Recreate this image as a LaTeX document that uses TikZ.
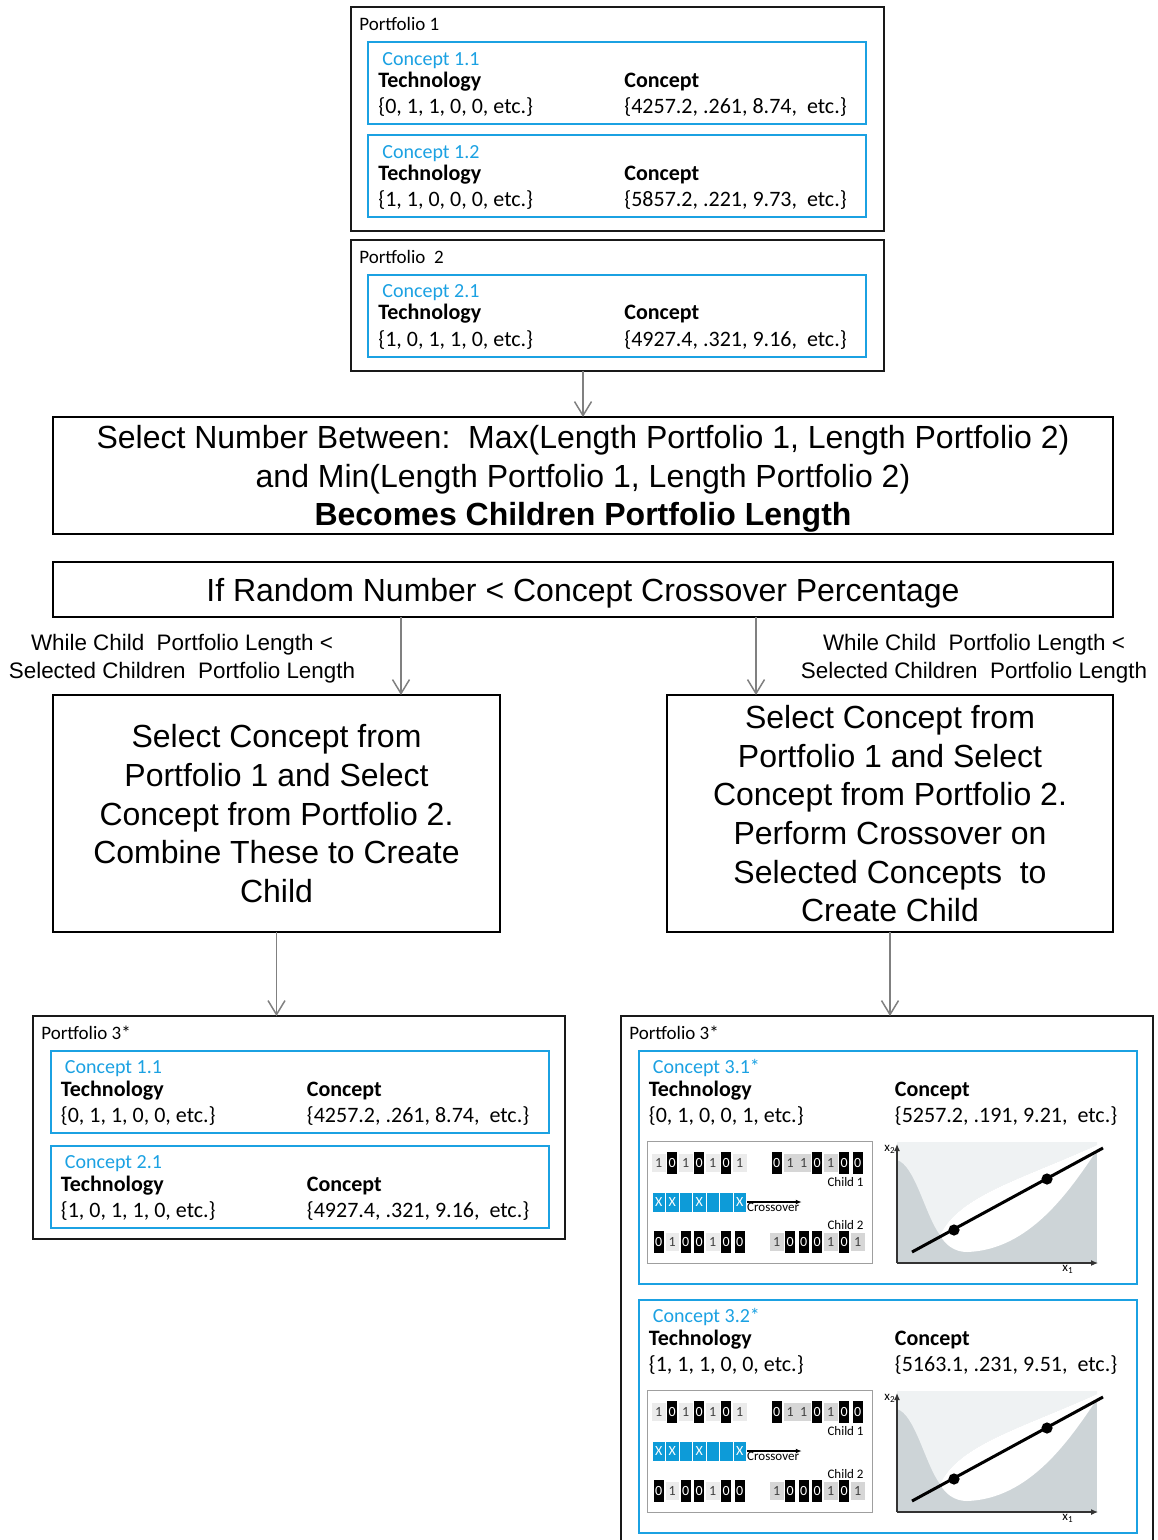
\documentclass[tikz,border=0pt]{standalone}
\usepackage{fontspec}
\setmainfont{Carlito}
\newfontfamily\arialfont{Liberation Sans}
\usetikzlibrary{arrows.meta}

\definecolor{conceptblue}{HTML}{1BA1E2}
\definecolor{xoverblue}{HTML}{0D9BD8}
\definecolor{bitlite}{HTML}{EBEBEB}
\definecolor{bitmid}{HTML}{D6D6D6}
\definecolor{plotgray}{HTML}{CDD4D7}
\definecolor{plotpale}{HTML}{EFF2F3}
\definecolor{arrowgray}{HTML}{808080}

% one concept card: [height]{x}{y}{name}{title}{technology}{concept values}
\newcommand{\conceptcard}[7][41pt]{%
  \node[card, minimum height=#1, anchor=north west] (#4) at (#2,#3) {};
  \path (#4.north west) ++(14,22.6) node[cardtitle] (#4t) {#5};
  \path (#4.north west) ++(10,45) node[cardhead] (#4h) {Technology};
  \path (#4.north west) ++(10,71.5) node[cardtext] (#4v) {#6};
  \path (#4.north west) ++(256,45) node[cardhead] (#4k) {Concept};
  \path (#4.north west) ++(256,71.5) node[cardtext] (#4w) {#7};
}

% row of bits: {prefix}{left x}{y}{bits}{fill of the 1s}
\newcommand{\bitrow}[5]{%
  \foreach \b [count=\i] in {#4} {
    \ifnum\b=0\relax
      \node[bitdark] (#1\i) at ({#2+13.5*\i-6.75},#3) {0};
    \else
      \node[bitlight, fill=#5] (#1\i) at ({#2+13.5*\i-6.75},#3) {1};
    \fi
  }
}

\tikzset{
  xover/.pic={
    % crossover sketch
    \node[draw=gray!75, line width=0.5pt, fill=white, minimum width=112.5pt, minimum height=61pt,
      inner sep=0pt, outer sep=0pt, anchor=north west] (panel) at (647,1141) {};
    \bitrow{pa}{652}{1163}{1,0,1,0,1,0,1}{bitlite}
    \bitrow{pb}{770}{1163}{0,1,1,0,1,0,0}{bitmid}
    \bitrow{ca}{652}{1242}{0,1,0,0,1,0,0}{bitlite}
    \bitrow{cb}{770}{1242}{1,0,0,0,1,0,1}{bitmid}
    \foreach \t [count=\i] in {X,X,{},X,{},{},X}
      \node[xcell] (mask\i) at ({645.25+13.5*\i},1202) {\t};
    \draw[line width=0.6pt, -{Latex[length=3pt,width=2.4pt]}] (mask7.east) -- ++(55,0) coordinate (xend);
    \node[smalltext, anchor=north west] (xlab) at ([yshift=-0.5pt]mask7.east) {Crossover};
    \node[smalltext, anchor=base east] (child1) at (864,1186) {Child 1};
    \node[smalltext, anchor=base east] (child2) at (864,1229) {Child 2};
    % landscape with the search line
    \fill[plotgray] (897,1142) rectangle (1097,1263);
    \fill[plotpale] (897,1142) -- (897,1160) .. controls (915,1165) and (925,1215) .. (940,1235)
      .. controls (960,1195) and (1020,1180) .. (1097,1145) -- (1097,1142) -- cycle;
    \fill[white] (940,1235) .. controls (960,1195) and (1020,1180) .. (1097,1145) -- (1097,1150)
      .. controls (1070,1190) and (1030,1250) .. (967,1252) .. controls (955,1252) and (945,1245) .. (940,1235) -- cycle;
    \draw[axis] (897,1263) -- (897,1144);
    \draw[axis] (897,1263) -- (1098,1263);
    \node[smalltext, anchor=east] (x2) at (896,1149) {x\textsubscript{2}};
    \node[smalltext, anchor=north] (x1) at (1068,1265) {x\textsubscript{1}};
    \draw[line width=1.5pt] (912,1252) -- (1103,1148);
    \fill (954,1230) circle (2.8pt) (1047,1179) circle (2.8pt);
  }
}

\begin{document}
\begin{tikzpicture}[x=0.5pt, y=-0.5pt,
  frame/.style={draw=black!90, line width=1pt, inner sep=0pt, outer sep=0pt, anchor=north west},
  framelabel/.style={anchor=base west, inner sep=0pt, font=\fontsize{9.5}{11}\selectfont},
  card/.style={draw=conceptblue, line width=1pt, inner sep=0pt, outer sep=0pt, minimum width=249pt},
  cardtitle/.style={anchor=base west, inner sep=0pt, text=conceptblue, font=\fontsize{10}{12}\selectfont},
  cardhead/.style={anchor=base west, inner sep=0pt, font=\bfseries\fontsize{11}{13}\selectfont},
  cardtext/.style={anchor=base west, inner sep=0pt, font=\fontsize{11}{13}\selectfont},
  flowbox/.style={draw=black, line width=1pt, inner sep=0pt, outer sep=0pt, align=center,
    text depth=0pt, font=\arialfont\fontsize{16}{19.3}\selectfont},
  looplabel/.style={align=center, inner sep=0pt, font=\arialfont\fontsize{11.2}{14}\selectfont},
  flowarrow/.style={draw=arrowgray, line width=0.75pt, -{Straight Barb[length=7pt,width=8.5pt]}},
  bitdark/.style={fill=black, text=white, minimum width=5.2pt, minimum height=11pt, inner sep=0pt,
    font=\fontsize{7}{8}\selectfont},
  bitlight/.style={text=black!75, minimum width=6.75pt, minimum height=9pt, inner sep=0pt,
    font=\fontsize{7}{8}\selectfont},
  xcell/.style={fill=xoverblue, draw=white, line width=0.3pt, text=white, minimum width=6.75pt,
    minimum height=10pt, inner sep=0pt, font=\fontsize{7}{8}\selectfont},
  smalltext/.style={inner sep=0pt, font=\fontsize{6.5}{7}\selectfont},
  axis/.style={draw=black!80, line width=0.6pt, -{Latex[length=3.5pt,width=3pt]}},
]
\useasboundingbox (0,0) rectangle (1157,1540);

% parent portfolios
\node[frame, minimum width=266.5pt, minimum height=112pt] (p1) at (351,7) {};
\node[framelabel] (p1l) at (359,31) {Portfolio 1};
\conceptcard{368}{42.5}{c11}{Concept 1.1}{\{0, 1, 1, 0, 0, etc.\}}{\{4257.2, .261, 8.74,\ \ etc.\}}
\conceptcard{368}{135.5}{c12}{Concept 1.2}{\{1, 1, 0, 0, 0, etc.\}}{\{5857.2, .221, 9.73,\ \ etc.\}}

\node[frame, minimum width=266.5pt, minimum height=65.5pt] (p2) at (351,240) {};
\node[framelabel] (p2l) at (359,264) {Portfolio\ \ 2};
\conceptcard{368}{275}{c21}{Concept 2.1}{\{1, 0, 1, 1, 0, etc.\}}{\{4927.4, .321, 9.16,\ \ etc.\}}

% flow
\node[flowbox, minimum width=530pt, minimum height=58.5pt] (select) at (583,475.5)
  {Select Number Between:\ \ Max(Length Portfolio 1, Length Portfolio 2)\\
   and Min(Length Portfolio 1, Length Portfolio 2)\\
   \textbf{Becomes Children Portfolio Length}};
\node[flowbox, minimum width=530pt, minimum height=27.5pt] (random) at (583,589.5)
  {If Random Number < Concept Crossover Percentage};

\node[flowbox, minimum width=223.5pt, minimum height=118.5pt] (leftbox) at (276.5,813.5)
  {Select Concept from\\Portfolio 1 and Select\\Concept from Portfolio 2.\\Combine These to Create\\Child};
\node[flowbox, minimum width=223pt, minimum height=118.5pt] (rightbox) at (890,813.5)
  {Select Concept from\\Portfolio 1 and Select\\Concept from Portfolio 2.\\Perform Crossover on\\Selected Concepts\ \ to\\Create Child};

\node[looplabel] (lwhile) at (182,659) {While Child\ \ Portfolio Length <\\Selected Children\ \ Portfolio Length};
\node[looplabel] (rwhile) at (974,659) {While Child\ \ Portfolio Length <\\Selected Children\ \ Portfolio Length};

\coordinate (ltap) at (401,617);
\coordinate (rtap) at (756,617);
\draw[flowarrow] (select.north |- p2.south) -- (select.north);
\draw[flowarrow] (ltap) -- (ltap |- leftbox.north);
\draw[flowarrow] (rtap) -- (rtap |- rightbox.north);

% child portfolios
\node[frame, minimum width=266pt, minimum height=111.5pt] (p3l) at (33,1016) {};
\node[framelabel] (p3ll) at (41,1039) {Portfolio 3*};
\conceptcard{50.5}{1051}{d11}{Concept 1.1}{\{0, 1, 1, 0, 0, etc.\}}{\{4257.2, .261, 8.74,\ \ etc.\}}
\conceptcard{50.5}{1146}{d21}{Concept 2.1}{\{1, 0, 1, 1, 0, etc.\}}{\{4927.4, .321, 9.16,\ \ etc.\}}

\node[frame, minimum width=266pt, minimum height=262.5pt] (p3r) at (621,1016) {};
\node[framelabel] (p3rl) at (629,1039) {Portfolio 3*};
\conceptcard[116.5pt]{638.5}{1051}{d31}{Concept 3.1*}{\{0, 1, 0, 0, 1, etc.\}}{\{5257.2, .191, 9.21,\ \ etc.\}}
\conceptcard[116.5pt]{638.5}{1300}{d32}{Concept 3.2*}{\{1, 1, 1, 0, 0, etc.\}}{\{5163.1, .231, 9.51,\ \ etc.\}}
\pic (xa) at (0,0) {xover};
\pic (xb) at (0,249) {xover};

\draw[flowarrow] (leftbox.south) -- (leftbox.south |- p3l.north);
\draw[flowarrow] (rightbox.south) -- (rightbox.south |- p3r.north);
\end{tikzpicture}
\end{document}
